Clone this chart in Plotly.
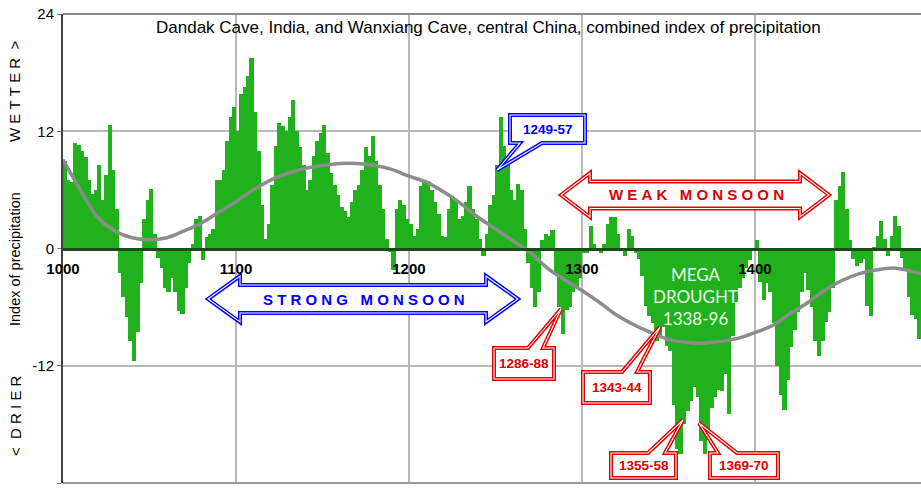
import plotly.graph_objects as go

# ---- data -------------------------------------------------------------
# combined precipitation index, two-year steps starting in 1000
years = list(range(1000, 1496, 2))
precip = [
    9.0, 7.0, 6.8, 10.8, 10.6,        # 1000s
    10.0, 9.4, 7.0, 5.6, 6.0,         # 1010s
    8.5, 5.0, 7.5, 12.6, 8.0,         # 1020s
    4.0, -2.5, -5.0, -7.0, -9.5,      # 1030s
    -11.5, -8.5, -3.5, 3.0, 5.0,      # 1040s
    6.1, 1.5, -1.0, -2.0, -4.0,       # 1050s
    -4.5, -3.0, -4.5, -6.4, -6.7,     # 1060s
    -4.0, -1.5, 0.5, 3.0, 3.3,        # 1070s
    -1.2, 1.2, 1.5, 2.0, 7.0,         # 1080s
    7.0, 8.0, 11.0, 13.5, 14.5,       # 1090s
    12.0, 15.8, 16.5, 17.7, 19.5,     # 1100s
    14.0, 10.0, 4.5, 1.0, 2.5,        # 1110s
    6.5, 10.5, 12.8, 12.5, 12.0,      # 1120s
    13.5, 15.2, 12.0, 10.4, 8.5,      # 1130s
    6.0, 7.0, 9.5, 11.0, 11.8,        # 1140s
    12.6, 9.8, 7.7, 6.5, 5.5,         # 1150s
    4.2, 3.8, 3.2, 4.8, 6.0,          # 1160s
    6.5, 8.0, 10.4, 9.5, 11.5,        # 1170s
    9.0, 6.5, 4.0, 1.0, -0.4,         # 1180s
    -2.2, 4.0, 5.0, 4.5, 3.0,         # 1190s
    2.5, 1.3, 2.0, 6.4, 6.8,          # 1200s
    6.9, 6.0, 4.8, 3.5, 1.3,          # 1210s
    1.2, 4.0, 5.4, 5.0, 3.0,          # 1220s
    3.3, 4.8, 6.4, 4.0, 3.0,          # 1230s
    1.0, -0.8, 1.5, 4.5, 5.5,         # 1240s
    8.5, 13.5, 10.5, 8.5, 6.0,        # 1250s
    5.0, 6.6, 6.0, 2.0, -1.5,         # 1260s
    -4.0, -6.0, -4.5, 0.9, 1.5,       # 1270s
    1.3, 1.9, -2.6, -6.0, -8.7,       # 1280s
    -6.3, -6.0, -4.5, -4.0, -3.0,     # 1290s
    -0.5, -0.5, 2.3, 0.5, -0.3,       # 1300s
    -0.5, 0.5, 2.5, 3.2, 3.2,         # 1310s
    1.5, -0.3, -0.8, 2.0, 1.3,        # 1320s
    -0.5, -1.1, -2.8, -5.9, -6.9,     # 1330s
    -7.6, -9.5, -9.0, -8.0, -10.0,    # 1340s
    -10.5, -16.0, -20.5, -21.0, -18.0,  # 1350s
    -16.6, -15.6, -14.2, -15.2, -19.7,  # 1360s
    -21.0, -18.5, -16.3, -15.2, -14.5,  # 1370s
    -14.6, -12.8, -16.9, -9.0, -5.5,  # 1380s
    -4.0, -3.0, -2.0, -1.2, -0.3,     # 1390s
    0.9, -3.4, -5.3, -3.5, -4.5,      # 1400s
    -7.6, -12.0, -15.0, -16.5, -13.5,  # 1410s
    -10.1, -8.3, -6.5, -4.5, -2.5,    # 1420s
    -4.2, -6.0, -9.5, -11.0, -9.5,    # 1430s
    -7.5, -6.5, -4.0, 5.0, 6.4,       # 1440s
    7.8, 4.0, 0.9, -1.1, -1.8,        # 1450s
    -1.5, -1.1, -5.9, -6.9, 0.2,      # 1460s
    1.3, 2.8, 1.0, -0.8, 1.3,         # 1470s
    3.3, 2.3, -1.0, -2.2, -5.0,       # 1480s
    -6.8, -7.2, -9.3,                 # 1490s
]

# smoothed trend of the index
trend_years = [1000, 1010, 1020, 1030, 1040, 1050, 1060, 1070, 1080, 1090,
               1100, 1110, 1120, 1130, 1140, 1150, 1160, 1170, 1180, 1190,
               1200, 1210, 1220, 1230, 1240, 1250, 1260, 1270, 1280, 1290,
               1300, 1310, 1320, 1330, 1340, 1350, 1360, 1370, 1380, 1390,
               1400, 1410, 1420, 1430, 1440, 1450, 1460, 1470, 1480, 1490, 1496]
trend_vals = [9.1, 6.0, 3.2, 1.8, 1.1, 0.9, 1.1, 1.8, 2.6, 3.7,
              4.8, 6.0, 7.0, 7.7, 8.2, 8.5, 8.7, 8.7, 8.5, 8.1,
              7.4, 6.8, 5.8, 4.6, 3.2, 2.0, 0.8, -0.4, -2.0, -3.2,
              -4.3, -5.5, -6.8, -7.8, -8.6, -9.3, -9.6, -9.7, -9.5, -9.2,
              -8.6, -7.9, -6.7, -5.6, -4.3, -3.3, -2.6, -2.2, -2.0, -2.3, -2.6]

x_ticks = [1000, 1100, 1200, 1300, 1400]
x_tick_text = ["1000", "1100", "1200", "1300", "1400"]
y_ticks = [-24, -12, 0, 12, 24]
y_tick_text = ["-24", "-12", "0", "12", "24"]

TITLE = "Dandak Cave, India, and Wanxiang Cave, central China, combined index of precipitation"

# ---- styling ----------------------------------------------------------
W, H = 921, 491
L, R, T, B = 63, 0, 14, 8
PW, PH = W - L - R, H - T - B

GREEN = "#21B11C"
ZERO = "#1B4A1B"
GRID = "#B8B8B8"
RED = "#E00000"
BLUE = "#0000FF"
FONT = "Arial, Liberation Sans, sans-serif"


def px(x):
    return (x - L) / PW


def py(y):
    return (H - B - y) / PH


def path(points):
    return "M " + " L ".join(f"{px(a):.5f},{py(b):.5f}" for a, b in points) + " Z"


def block_arrow(xl, xr, yc, head, head_half, shaft_half):
    return [
        (xl, yc), (xl + head, yc - head_half), (xl + head, yc - shaft_half),
        (xr - head, yc - shaft_half), (xr - head, yc - head_half), (xr, yc),
        (xr - head, yc + head_half), (xr - head, yc + shaft_half),
        (xl + head, yc + shaft_half), (xl + head, yc + head_half),
    ]


def callout(box, base, tip, side):
    x0, y0, x1, y1 = box
    b0, b1 = base
    if side == "top":
        return [(x0, y0), (b0, y0), tip, (b1, y0), (x1, y0), (x1, y1), (x0, y1)]
    return [(x0, y0), (x1, y0), (x1, y1), (b1, y1), tip, (b0, y1), (x0, y1)]


fig = go.Figure()
# each two-year bar is drawn slightly wider than its slot so neighbours overlap
fig.add_trace(go.Bar(
    x=years, y=precip, width=2.45, offset=-0.2,
    marker=dict(color=GREEN, line=dict(width=0)),
    showlegend=False, hoverinfo="skip",
))
fig.add_trace(go.Scatter(
    x=trend_years, y=trend_vals, mode="lines",
    line=dict(color="#8C8C8C", width=3.5, shape="spline", smoothing=1.0),
    showlegend=False, hoverinfo="skip",
))

shapes = []
# white band behind the title
shapes.append(dict(type="rect", xref="paper", yref="paper", x0=px(140), x1=px(840),
                   y0=py(42), y1=1, fillcolor="white", line=dict(width=0), layer="between"))
# frame lines
shapes.append(dict(type="line", xref="paper", yref="paper", x0=0, x1=1, y0=1, y1=1,
                   line=dict(color="#8A8A8A", width=2), layer="above"))
shapes.append(dict(type="line", xref="paper", yref="paper", x0=0, x1=1, y0=0, y1=0,
                   line=dict(color="#9A9A9A", width=2), layer="above"))


def outlined(points, color):
    p = path(points)
    shapes.append(dict(type="path", xref="paper", yref="paper", path=p,
                       fillcolor="white", line=dict(color=color, width=4), layer="above"))
    shapes.append(dict(type="path", xref="paper", yref="paper", path=p,
                       fillcolor="rgba(0,0,0,0)", line=dict(color="white", width=1.1), layer="above"))


outlined(block_arrow(561, 829, 195, 29, 22, 13.5), RED)
outlined(block_arrow(208, 518, 299, 32, 23, 14), BLUE)

callouts = [
    dict(text="1249-57", color=BLUE, box=(510, 115, 585, 143), base=(520, 542), tip=(497, 170), side="bottom"),
    dict(text="1286-88", color=RED, box=(494, 348, 554, 379), base=(528, 543), tip=(561, 309), side="top"),
    dict(text="1343-44", color=RED, box=(583, 372, 650, 403), base=(622, 637), tip=(660, 327), side="top"),
    dict(text="1355-58", color=RED, box=(611, 453, 676, 478), base=(648, 665), tip=(683, 420), side="top"),
    dict(text="1369-70", color=RED, box=(710, 453, 778, 478), base=(718, 737), tip=(699, 423), side="top"),
]
annotations = []
for c in callouts:
    outlined(callout(c["box"], c["base"], c["tip"], c["side"]), c["color"])
    x0, y0, x1, y1 = c["box"]
    annotations.append(dict(
        x=px((x0 + x1) / 2), y=py((y0 + y1) / 2), xref="paper", yref="paper",
        text=c["text"], showarrow=False, xanchor="center", yanchor="middle",
        font=dict(family=FONT, size=13.5, color=c["color"], weight="bold"),
    ))

NB = "\u00a0"


def spaced(word):
    return NB.join(word)


annotations += [
    dict(x=px(488), y=py(27), xref="paper", yref="paper", text=TITLE, showarrow=False,
         xanchor="center", yanchor="middle", font=dict(family=FONT, size=17, color="black")),
    dict(x=px(696), y=py(195), xref="paper", yref="paper",
         text=spaced("WEAK") + NB * 3 + spaced("MONSOON"), showarrow=False,
         xanchor="center", yanchor="middle", font=dict(family=FONT, size=15, color=RED, weight="bold")),
    dict(x=px(364), y=py(299), xref="paper", yref="paper",
         text=spaced("STRONG") + NB * 3 + spaced("MONSOON"), showarrow=False,
         xanchor="center", yanchor="middle", font=dict(family=FONT, size=15, color=BLUE, weight="bold")),
    dict(x=px(695), y=py(296), xref="paper", yref="paper",
         text="MEGA<br>DROUGHT<br>1338-96", showarrow=False,
         xanchor="center", yanchor="middle",
         font=dict(family="Lato, sans-serif", size=17, color="#EEF7EE")),
    dict(x=px(15), y=py(92), xref="paper", yref="paper",
         text=spaced("WETTER") + NB * 2 + ">", textangle=-90, showarrow=False,
         xanchor="center", yanchor="middle", font=dict(family=FONT, size=15, color="black")),
    dict(x=px(15), y=py(259), xref="paper", yref="paper",
         text="Index of precipitation", textangle=-90, showarrow=False,
         xanchor="center", yanchor="middle", font=dict(family=FONT, size=14.5, color="black")),
    dict(x=px(15), y=py(416), xref="paper", yref="paper",
         text="<" + NB * 2 + spaced("DRIER"), textangle=-90, showarrow=False,
         xanchor="center", yanchor="middle", font=dict(family=FONT, size=15, color="black")),
]

fig.update_layout(
    width=W, height=H,
    margin=dict(l=L, r=R, t=T, b=B, pad=0),
    paper_bgcolor="white", plot_bgcolor="white",
    bargap=0, barmode="overlay", showlegend=False,
    shapes=shapes, annotations=annotations,
    xaxis=dict(
        range=[1000, 1496], tickvals=x_ticks, ticktext=x_tick_text,
        anchor="free", position=0.5, layer="above traces",
        showline=True, linecolor=ZERO, linewidth=2.5,
        showgrid=True, gridcolor=GRID, gridwidth=1.5, zeroline=False,
        ticks="", ticklabelstandoff=6,
        tickfont=dict(family=FONT, size=15, color="black", weight="bold"),
    ),
    yaxis=dict(
        range=[-24, 24], tickvals=y_ticks, ticktext=y_tick_text,
        showline=True, linecolor="#404040", linewidth=2,
        showgrid=True, gridcolor=GRID, gridwidth=1.5, zeroline=False,
        ticks="outside", ticklen=4, tickcolor="#808080",
        tickfont=dict(family=FONT, size=15, color="black"),
    ),
)

fig.write_html("out.html")
